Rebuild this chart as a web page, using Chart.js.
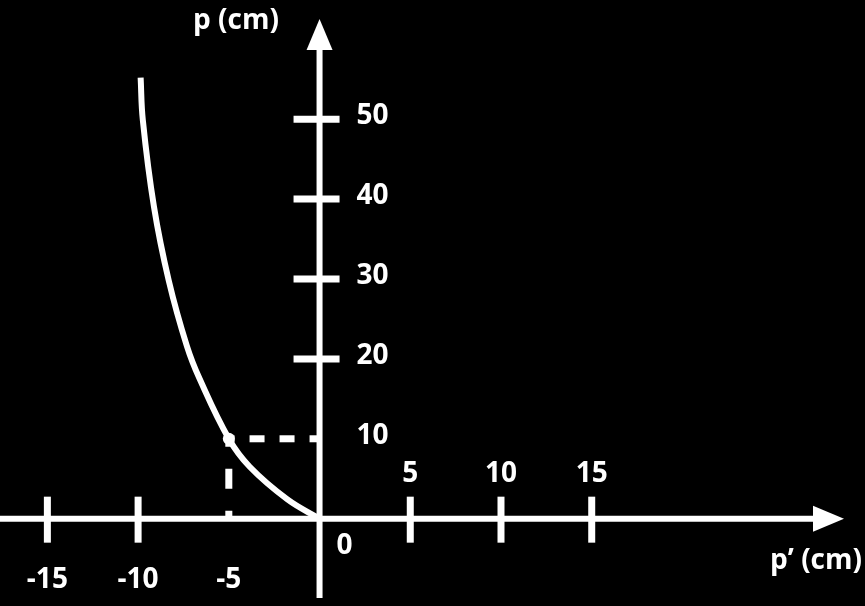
<!DOCTYPE html>
<html>
<head>
<meta charset="utf-8">
<script src="https://cdn.jsdelivr.net/npm/chart.js@4.4.1/dist/chart.umd.min.js"></script>
<style>
  html, body { margin: 0; padding: 0; background: #000; }
  #wrap { width: 865px; height: 606px; }
</style>
</head>
<body>
<div id="wrap"><canvas id="c" width="865" height="606"></canvas></div>
<script>
// ---- data ----
const pPrimeCurve = [-9.86, -9.74, -9.13, -8.31, -7.31, -6.61, -5.0, -3.85, -1.79, 0];
const pCurve      = [55.2,  49.9,  39.1,  29.8,  21.6,  17.5,  10,   6.5,   2.45,  0];
const markedPPrime = [-5];
const markedP      = [10];
const xTickLabels = [-15, -10, -5, 5, 10, 15];
const xTickMarks  = [-15, -10, 5, 10, 15];
const yTickLabels = [10, 20, 30, 40, 50];
const yTickMarks  = [20, 30, 40, 50];
const xAxisTitle = 'p\u2019 (cm)';
const yAxisTitle = 'p (cm)';
const originLabel = '0';

const curveData = pPrimeCurve.map((v, i) => ({ x: v, y: pCurve[i] }));
const markX = markedPPrime[0], markY = markedP[0];

const FONT = "bold 28px 'Open Sans', 'DejaVu Sans', sans-serif";

const axesPlugin = {
  id: 'axesPlugin',
  beforeDraw(chart) {
    const ctx = chart.ctx;
    ctx.save();
    ctx.fillStyle = '#000';
    ctx.fillRect(0, 0, chart.width, chart.height);
    ctx.restore();
  },
  beforeDatasetsDraw(chart) {
    const ctx = chart.ctx;
    const xs = chart.scales.x, ys = chart.scales.y;
    const ox = xs.getPixelForValue(0), oy = ys.getPixelForValue(0);
    ctx.save();
    ctx.strokeStyle = '#fff';
    ctx.fillStyle = '#fff';
    // x axis
    ctx.lineWidth = 6;
    ctx.beginPath();
    ctx.moveTo(0, oy);
    ctx.lineTo(818, oy);
    ctx.stroke();
    ctx.beginPath();
    ctx.moveTo(844, oy);
    ctx.lineTo(813, oy - 13);
    ctx.lineTo(813, oy + 13);
    ctx.closePath();
    ctx.fill();
    // y axis
    ctx.beginPath();
    ctx.moveTo(ox, 598);
    ctx.lineTo(ox, 44);
    ctx.stroke();
    ctx.beginPath();
    ctx.moveTo(ox, 19);
    ctx.lineTo(ox - 13, 50);
    ctx.lineTo(ox + 13, 50);
    ctx.closePath();
    ctx.fill();
    // tick marks
    ctx.lineWidth = 7;
    xTickMarks.forEach(v => {
      const px = xs.getPixelForValue(v);
      ctx.beginPath();
      ctx.moveTo(px, oy - 22);
      ctx.lineTo(px, oy + 24);
      ctx.stroke();
    });
    yTickMarks.forEach(v => {
      const py = ys.getPixelForValue(v);
      ctx.beginPath();
      ctx.moveTo(ox - 26, py);
      ctx.lineTo(ox + 20, py);
      ctx.stroke();
    });
    // labels
    ctx.font = FONT;
    ctx.textBaseline = 'middle';
    ctx.textAlign = 'center';
    xTickLabels.forEach(v => {
      const px = xs.getPixelForValue(v);
      const py = v > 0 ? oy - 45 : oy + 61;
      ctx.fillText(String(v), px, py);
    });
    ctx.textAlign = 'left';
    yTickLabels.forEach(v => {
      const py = ys.getPixelForValue(v);
      ctx.fillText(String(v), ox + 37, py - 3);
    });
    ctx.fillText(originLabel, ox + 17, oy + 27);
    ctx.textAlign = 'center';
    ctx.fillText(yAxisTitle, 236, 21);
    ctx.textAlign = 'right';
    ctx.fillText(xAxisTitle, 862, 561);
    ctx.restore();
  }
};

new Chart(document.getElementById('c'), {
  type: 'scatter',
  data: {
    datasets: [
      {
        data: curveData,
        showLine: true,
        borderColor: '#fff',
        borderWidth: 6,
        pointRadius: 0,
        tension: 0.4
      },
      {
        data: [{ x: 0, y: markY }, { x: markX, y: markY }],
        showLine: true,
        borderColor: '#fff',
        borderWidth: 7,
        borderDash: [15, 15],
        borderDashOffset: 5,
        pointRadius: 0
      },
      {
        data: [{ x: markX, y: 0 }, { x: markX, y: markY }],
        showLine: true,
        borderColor: '#fff',
        borderWidth: 7,
        borderDash: [20, 22],
        borderDashOffset: 12,
        pointRadius: 0
      },
      {
        data: [{ x: markX, y: markY }],
        pointRadius: 6,
        pointBackgroundColor: '#fff',
        pointBorderWidth: 0
      }
    ]
  },
  options: {
    responsive: false,
    animation: false,
    layout: { padding: 0 },
    plugins: { legend: { display: false }, tooltip: { enabled: false } },
    scales: {
      x: { type: 'linear', display: false, min: -17.28, max: 29.73 },
      y: { type: 'linear', display: false, min: -10.18, max: 64.17 }
    }
  },
  plugins: [axesPlugin]
});
</script>
</body>
</html>
